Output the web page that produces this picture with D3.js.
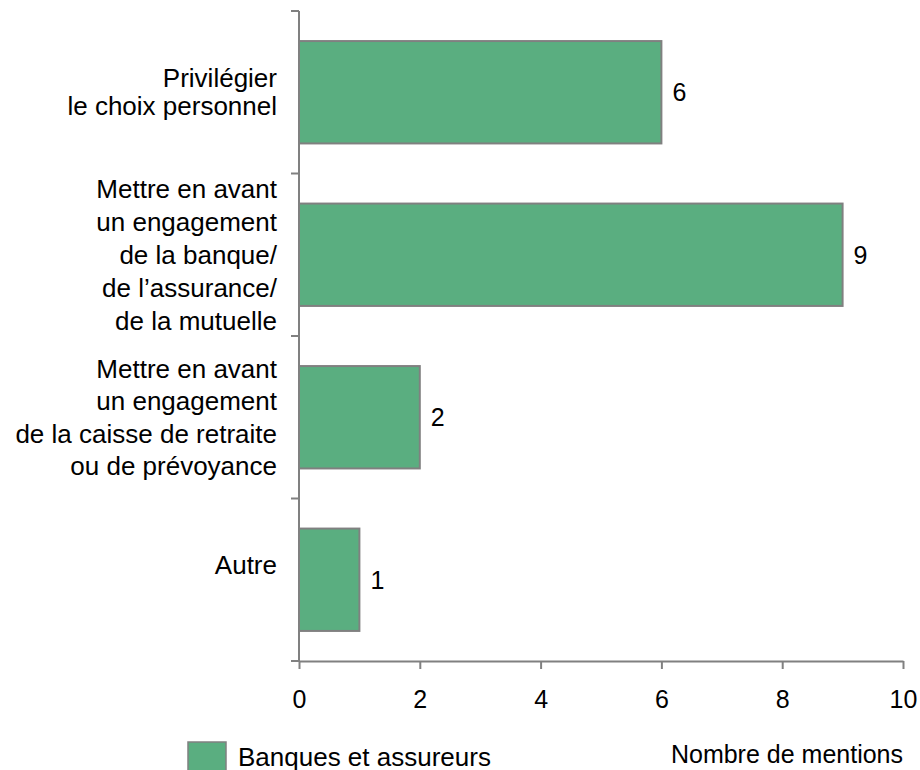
<!DOCTYPE html>
<html><head><meta charset="utf-8">
<script src="https://cdn.jsdelivr.net/npm/d3@7"></script>
<style>body{margin:0;background:#fff}svg{display:block}text{font-family:"Liberation Sans",Arial,sans-serif}</style>
</head><body>
<svg id="c" width="920" height="770"></svg>
<script>
const categories = [
  ["Privilégier","le choix personnel"],
  ["Mettre en avant","un engagement","de la banque/","de l\u2019assurance/","de la mutuelle"],
  ["Mettre en avant","un engagement","de la caisse de retraite","ou de prévoyance"],
  ["Autre"]
];
const values = [6, 9, 2, 1];
const xTicks = [0, 2, 4, 6, 8, 10];
const seriesName = "Banques et assureurs";
const axisTitle = "Nombre de mentions";

const svg = d3.select("#c");
const mLeft = 299, mRight = 903, mTop = 11, mBottom = 661;
const fill = "#5aae80", grey = "#808080";
const x = d3.scaleLinear().domain([0, 10]).range([mLeft, mRight]);
const y = d3.scaleBand().domain(d3.range(categories.length)).range([mTop, mBottom]).paddingInner(0.37).paddingOuter(0.185);
const band = (mBottom - mTop) / categories.length;

// bars
svg.selectAll("rect.bar").data(values).join("rect")
  .attr("x", x(0)).attr("y", (d,i) => y(i))
  .attr("width", d => x(d) - x(0)).attr("height", y.bandwidth())
  .attr("fill", fill).attr("stroke", grey).attr("stroke-width", 2);

// value labels
svg.selectAll("text.val").data(values).join("text")
  .attr("x", d => x(d) + 11).attr("y", (d,i) => y(i) + y.bandwidth()/2)
  .attr("dy", "0.35em").attr("font-size", 25).attr("fill", "#000").text(d => d);

// x axis
const xa = svg.append("g").attr("transform", `translate(0,${mBottom})`)
  .call(d3.axisBottom(x).tickValues(xTicks).tickSize(8).tickSizeOuter(0).tickPadding(21));
xa.select(".domain").attr("stroke", grey).attr("stroke-width", 2);
xa.selectAll(".tick line").attr("stroke", grey).attr("stroke-width", 2);
xa.selectAll(".tick text").attr("font-size", 25).attr("fill", "#000").attr("font-family", '"Liberation Sans",Arial,sans-serif');

// y axis line and ticks at band boundaries
svg.append("line").attr("x1", mLeft).attr("x2", mLeft).attr("y1", mTop).attr("y2", mBottom)
  .attr("stroke", grey).attr("stroke-width", 2);
svg.selectAll("line.yt").data(d3.range(categories.length + 1)).join("line")
  .attr("x1", mLeft - 8).attr("x2", mLeft)
  .attr("y1", i => mTop + i * band).attr("y2", i => mTop + i * band)
  .attr("stroke", grey).attr("stroke-width", 2);

// category labels
const lh = [28, 33, 32.5, 32];
const off = [0, 0, 0, -15];
categories.forEach((lines, i) => {
  const cy = y(i) + y.bandwidth()/2 + off[i];
  const t = svg.append("text").attr("text-anchor", "end").attr("font-size", 26).attr("fill", "#000");
  lines.forEach((ln, j) => {
    t.append("tspan").attr("x", 277)
      .attr("y", cy + (j - (lines.length - 1)/2) * lh[i])
      .attr("dy", "0.35em").text(ln);
  });
});

// legend
svg.append("rect").attr("x", 188).attr("y", 742).attr("width", 38).attr("height", 36)
  .attr("fill", fill).attr("stroke", grey).attr("stroke-width", 1.5);
svg.append("text").attr("x", 238).attr("y", 766).attr("font-size", 26).attr("fill", "#000").text(seriesName);

// axis title
svg.append("text").attr("x", 903).attr("y", 763).attr("text-anchor", "end").attr("font-size", 25).attr("fill", "#000").text(axisTitle);
</script>
</body></html>
